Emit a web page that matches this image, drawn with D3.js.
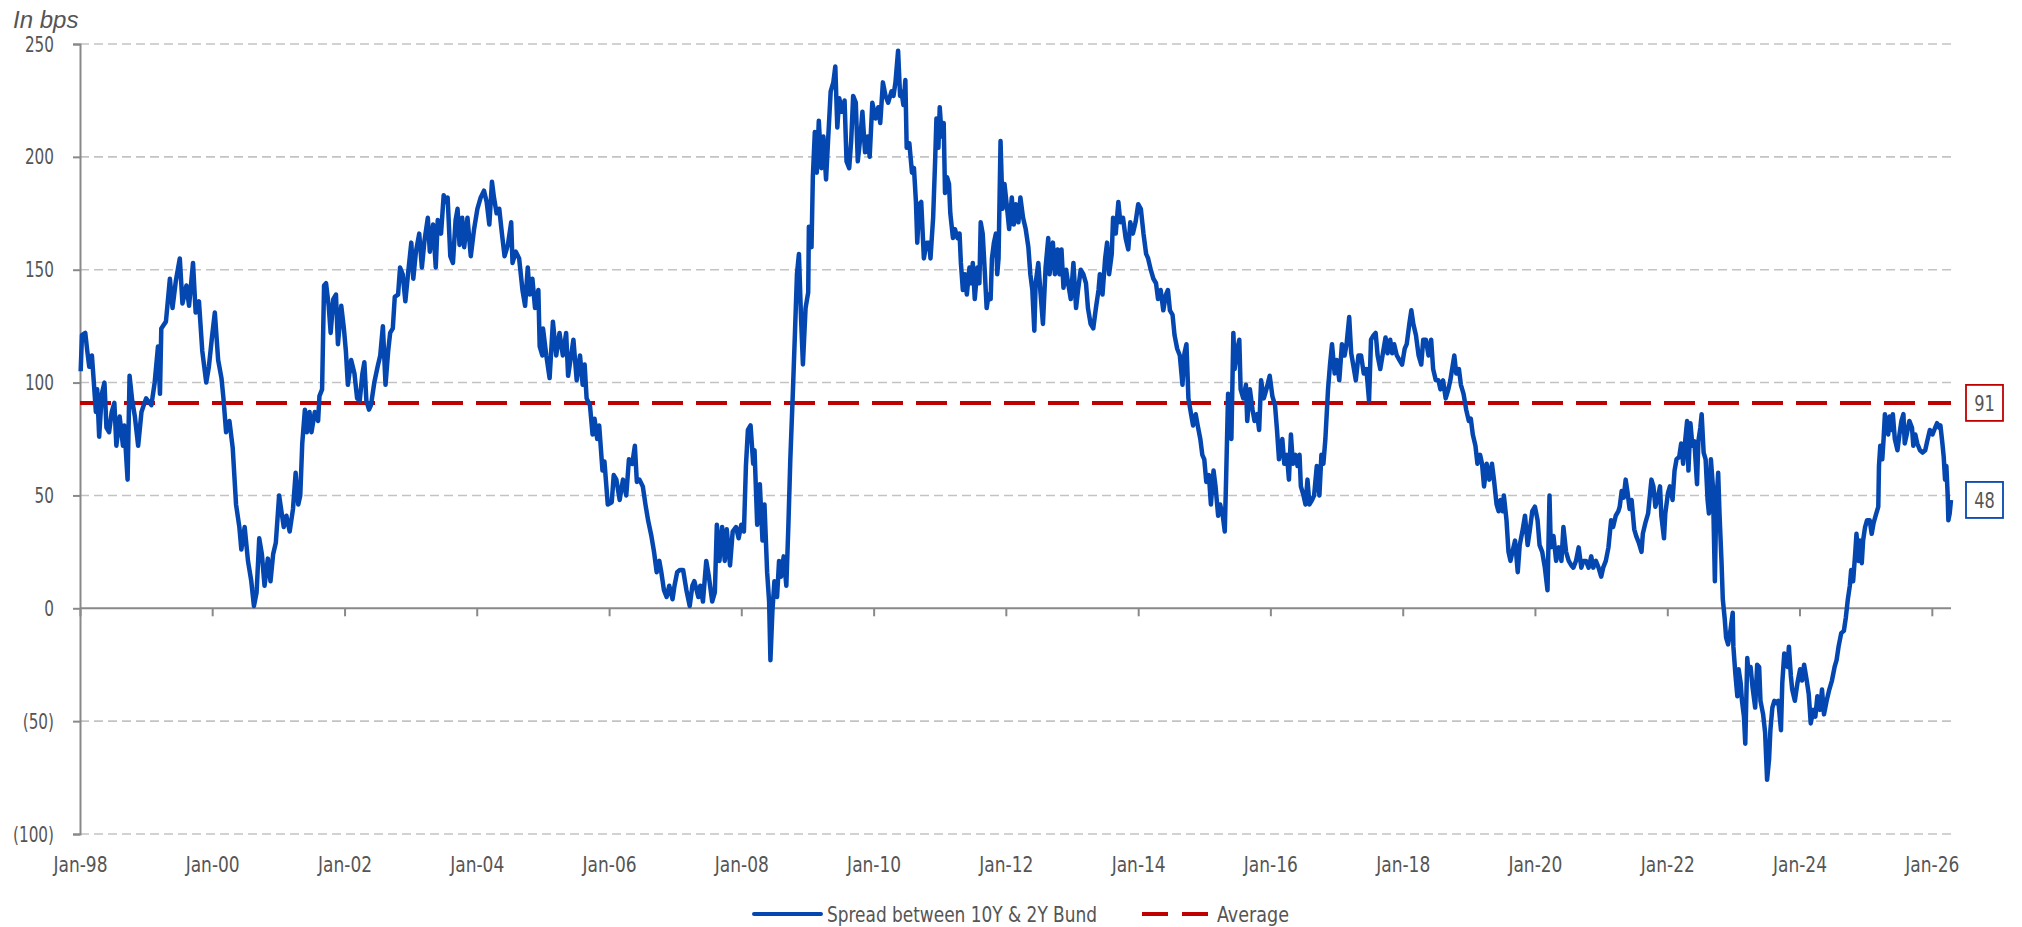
<!DOCTYPE html>
<html>
<head>
<meta charset="utf-8">
<script src="https://cdn.jsdelivr.net/npm/d3@7"></script>
<style>
  body { margin: 0; background: #fff; }
  text { font-family: "DejaVu Sans Condensed", "DejaVu Sans", sans-serif; fill: #555; }
</style>
</head>
<body>
<script>
// spread between 10Y and 2Y Bund, in bps as [decimal year, bps]
var spread98 = [[1998.01,105],[1998.03,121],[1998.08,122],[1998.11,114],[1998.14,107],[1998.18,112],[1998.2,104],[1998.24,87],[1998.26,97],[1998.29,76],[1998.33,95],[1998.37,100],[1998.4,80],[1998.44,78],[1998.48,87],[1998.52,91],[1998.55,72],[1998.6,85],[1998.65,72],[1998.67,81],[1998.72,57],[1998.75,103],[1998.79,92],[1998.83,85],[1998.88,72],[1998.93,87],[1999.0,93],[1999.08,90],[1999.13,100],[1999.18,116],[1999.21,95],[1999.23,124],[1999.3,127],[1999.36,146],[1999.4,133],[1999.45,145],[1999.51,155],[1999.55,135],[1999.61,143],[1999.65,134],[1999.71,153],[1999.75,131],[1999.8,136],[1999.85,114],[1999.91,100],[1999.95,107],[2000.0,121],[2000.04,131],[2000.09,110],[2000.14,102],[2000.17,93],[2000.21,78],[2000.26,83],[2000.31,71],[2000.36,46],[2000.41,36],[2000.44,26],[2000.49,36],[2000.54,21],[2000.59,12],[2000.63,1],[2000.67,7],[2000.71,31],[2000.75,24],[2000.79,10],[2000.84,22],[2000.88,12],[2000.92,24],[2000.96,29],[2001.01,50],[2001.04,44],[2001.08,36],[2001.12,41],[2001.17,34],[2001.22,44],[2001.26,60],[2001.3,46],[2001.33,50],[2001.36,73],[2001.4,88],[2001.43,78],[2001.47,87],[2001.5,78],[2001.55,87],[2001.6,83],[2001.62,94],[2001.66,97],[2001.69,143],[2001.72,144],[2001.76,134],[2001.79,122],[2001.83,137],[2001.87,139],[2001.9,117],[2001.95,134],[2001.99,124],[2002.02,114],[2002.05,99],[2002.1,110],[2002.15,104],[2002.19,93],[2002.23,92],[2002.27,104],[2002.3,109],[2002.33,92],[2002.37,88],[2002.4,90],[2002.45,100],[2002.5,107],[2002.54,112],[2002.58,125],[2002.62,99],[2002.66,114],[2002.69,122],[2002.73,124],[2002.76,138],[2002.81,139],[2002.84,151],[2002.88,148],[2002.92,136],[2002.96,148],[2003.01,162],[2003.04,146],[2003.08,158],[2003.13,166],[2003.17,151],[2003.21,163],[2003.26,173],[2003.29,158],[2003.34,170],[2003.38,151],[2003.41,172],[2003.46,166],[2003.5,183],[2003.53,180],[2003.56,182],[2003.6,156],[2003.64,153],[2003.68,172],[2003.71,177],[2003.74,161],[2003.78,173],[2003.81,160],[2003.86,173],[2003.91,156],[2003.96,168],[2004.01,177],[2004.06,182],[2004.11,185],[2004.15,180],[2004.19,170],[2004.23,189],[2004.26,182],[2004.3,175],[2004.34,177],[2004.38,166],[2004.42,156],[2004.47,161],[2004.52,171],[2004.54,153],[2004.59,158],[2004.64,155],[2004.69,141],[2004.73,134],[2004.77,151],[2004.8,139],[2004.84,146],[2004.88,133],[2004.93,141],[2004.95,116],[2004.99,112]]

var spread05 = [[2005.0,124],[2005.05,112],[2005.1,102],[2005.15,127],[2005.2,112],[2005.25,122],[2005.3,112],[2005.35,122],[2005.38,103],[2005.43,113],[2005.46,119],[2005.51,101],[2005.56,112],[2005.6,99],[2005.63,108],[2005.66,93],[2005.71,90],[2005.75,77],[2005.78,84],[2005.82,75],[2005.85,81],[2005.9,61],[2005.93,65],[2005.98,46],[2006.04,47],[2006.07,59],[2006.11,57],[2006.16,48],[2006.21,57],[2006.26,50],[2006.3,66],[2006.35,64],[2006.39,72],[2006.42,56],[2006.46,57],[2006.51,54],[2006.55,46],[2006.59,39],[2006.64,32],[2006.68,25],[2006.72,16],[2006.76,21],[2006.79,16],[2006.83,8],[2006.87,5],[2006.91,10],[2006.96,4],[2006.99,10],[2007.03,16],[2007.07,17],[2007.12,17],[2007.17,8],[2007.22,1],[2007.26,10],[2007.29,12],[2007.35,5],[2007.38,10],[2007.42,3],[2007.47,21],[2007.51,14],[2007.56,3],[2007.6,7],[2007.63,37],[2007.67,21],[2007.71,36],[2007.75,21],[2007.78,35],[2007.83,19],[2007.87,34],[2007.92,36],[2007.96,31],[2008.0,37],[2008.04,34],[2008.07,63],[2008.1,79],[2008.14,81],[2008.18,64],[2008.2,70],[2008.24,37],[2008.28,55],[2008.32,30],[2008.35,46],[2008.39,16],[2008.42,3],[2008.44,-23],[2008.47,-1],[2008.5,12],[2008.54,5],[2008.57,21],[2008.6,14],[2008.64,23],[2008.68,10],[2008.71,36],[2008.74,66],[2008.78,97],[2008.81,122],[2008.84,148],[2008.87,157],[2008.9,130],[2008.93,108],[2008.97,133],[2009.01,140],[2009.02,169],[2009.06,160],[2009.08,191],[2009.11,211],[2009.14,193],[2009.17,216],[2009.21,195],[2009.24,209],[2009.28,190],[2009.31,207],[2009.35,229],[2009.39,233],[2009.42,240],[2009.45,213],[2009.48,226],[2009.52,220],[2009.56,225],[2009.59,198],[2009.63,195],[2009.66,207],[2009.69,227],[2009.73,224],[2009.76,198],[2009.8,209],[2009.83,220],[2009.87,202],[2009.91,209],[2009.94,200],[2009.98,224],[2010.03,217],[2010.07,222],[2010.1,215],[2010.14,233],[2010.18,227],[2010.22,224],[2010.27,229],[2010.3,227],[2010.33,233],[2010.37,247],[2010.4,227]]

var spread10 = [[2010.42,229],[2010.45,223],[2010.48,234],[2010.5,204],[2010.54,206],[2010.58,193],[2010.61,195],[2010.64,180],[2010.66,162],[2010.69,179],[2010.72,180],[2010.76,155],[2010.8,162],[2010.84,162],[2010.86,155],[2010.9,173],[2010.93,198],[2010.95,217],[2010.98,204],[2011.0,222],[2011.03,209],[2011.06,215],[2011.08,184],[2011.11,191],[2011.14,188],[2011.16,175],[2011.2,164],[2011.23,168],[2011.27,164],[2011.3,166],[2011.32,153],[2011.35,141],[2011.38,148],[2011.41,139],[2011.45,151],[2011.48,144],[2011.5,153],[2011.53,137],[2011.57,151],[2011.6,144],[2011.62,171],[2011.65,166],[2011.68,150],[2011.71,133],[2011.74,139],[2011.77,137],[2011.79,155],[2011.82,162],[2011.85,166],[2011.87,148],[2011.89,155],[2011.92,207],[2011.95,177],[2011.98,188],[2012.02,177],[2012.05,168],[2012.09,182],[2012.12,170],[2012.15,179],[2012.19,171],[2012.22,182],[2012.26,173],[2012.3,168],[2012.34,160],[2012.37,148],[2012.4,141],[2012.43,123],[2012.45,144],[2012.49,153],[2012.52,141],[2012.56,126],[2012.6,151],[2012.64,164],[2012.66,148],[2012.71,162],[2012.74,148],[2012.78,159],[2012.81,148],[2012.84,159],[2012.87,142],[2012.91,150],[2012.94,144],[2012.98,137],[2013.02,153],[2013.06,133],[2013.09,141],[2013.13,150],[2013.17,148],[2013.21,144],[2013.24,133],[2013.28,126],[2013.32,124],[2013.36,133],[2013.4,141],[2013.42,148],[2013.46,139],[2013.5,155],[2013.53,162],[2013.56,148],[2013.6,157],[2013.62,173],[2013.66,166],[2013.7,180],[2013.73,171],[2013.77,173],[2013.81,164],[2013.85,159],[2013.88,171],[2013.92,166],[2013.96,171],[2014.0,179],[2014.04,177],[2014.08,166],[2014.12,157],[2014.15,155],[2014.19,150],[2014.23,146],[2014.27,144],[2014.3,137],[2014.34,141],[2014.38,132],[2014.42,139],[2014.45,141],[2014.48,132],[2014.52,130],[2014.55,121],[2014.59,115],[2014.63,112],[2014.67,99],[2014.7,113],[2014.73,117],[2014.76,93],[2014.8,86],[2014.83,81],[2014.87,86],[2014.9,81],[2014.94,75],[2014.97,68],[2015.0,66],[2015.03,56],[2015.07,59],[2015.1,46],[2015.14,61],[2015.17,54],[2015.21,41],[2015.24,46],[2015.28,41],[2015.31,34],[2015.33,57],[2015.36,95],[2015.38,88],[2015.41,75],[2015.44,122],[2015.46,106],[2015.5,115],[2015.53,119],[2015.55,97],[2015.59,93],[2015.63,99],[2015.65,83],[2015.69,97],[2015.73,88],[2015.76,83],[2015.8,86],[2015.83,79],[2015.86,101],[2015.9,93],[2015.94,97],[2015.99,103]]

var spread16 = [[2016.03,94],[2016.07,90],[2016.1,79],[2016.13,66],[2016.18,75],[2016.21,64],[2016.25,68],[2016.28,57],[2016.31,77],[2016.34,64],[2016.38,68],[2016.41,63],[2016.44,68],[2016.46,54],[2016.5,50],[2016.53,46],[2016.56,57],[2016.59,46],[2016.63,48],[2016.66,50],[2016.7,63],[2016.74,50],[2016.77,68],[2016.8,64],[2016.83,75],[2016.87,97],[2016.9,108],[2016.93,117],[2016.97,104],[2017.0,110],[2017.04,101],[2017.08,117],[2017.12,112],[2017.15,117],[2017.19,129],[2017.22,113],[2017.25,108],[2017.29,101],[2017.33,112],[2017.37,112],[2017.41,104],[2017.45,106],[2017.49,92],[2017.52,119],[2017.56,121],[2017.59,122],[2017.62,112],[2017.66,106],[2017.7,113],[2017.74,120],[2017.77,113],[2017.81,119],[2017.84,113],[2017.87,117],[2017.91,112],[2017.95,110],[2017.99,108],[2018.03,115],[2018.06,117],[2018.1,126],[2018.13,132],[2018.16,126],[2018.2,121],[2018.24,112],[2018.28,108],[2018.31,119],[2018.35,119],[2018.39,112],[2018.43,119],[2018.46,106],[2018.5,101],[2018.54,101],[2018.57,97],[2018.61,101],[2018.65,93],[2018.69,97],[2018.72,101],[2018.78,112],[2018.81,104],[2018.85,106],[2018.88,99],[2018.92,95],[2018.96,88],[2019.0,83],[2019.03,84],[2019.06,77],[2019.1,72],[2019.13,64],[2019.17,68],[2019.2,64],[2019.23,54],[2019.27,64],[2019.31,57],[2019.35,64],[2019.38,57],[2019.42,46],[2019.45,43],[2019.48,48],[2019.51,43],[2019.53,50],[2019.57,39],[2019.6,25],[2019.63,21],[2019.66,25],[2019.7,30],[2019.74,16],[2019.77,28],[2019.81,34],[2019.85,41],[2019.89,28],[2019.92,34],[2019.96,43],[2020.0,45],[2020.04,39],[2020.07,28],[2020.11,25],[2020.15,18],[2020.19,8],[2020.22,50],[2020.24,27],[2020.28,32],[2020.32,21],[2020.36,27],[2020.4,21],[2020.43,36],[2020.47,25],[2020.51,21],[2020.55,19],[2020.58,18],[2020.62,21],[2020.66,27],[2020.7,18],[2020.73,21],[2020.77,21],[2020.81,18],[2020.85,23],[2020.88,18],[2020.92,21],[2020.96,18],[2021.0,14],[2021.03,18],[2021.07,21],[2021.11,27],[2021.15,39],[2021.18,36],[2021.22,41],[2021.26,43]]

var spread21 = [[2021.28,45],[2021.31,52],[2021.34,49],[2021.37,57],[2021.4,51],[2021.43,44],[2021.46,48],[2021.5,35],[2021.53,32],[2021.57,29],[2021.61,25],[2021.63,33],[2021.67,38],[2021.71,42],[2021.74,51],[2021.76,57],[2021.79,54],[2021.82,45],[2021.85,48],[2021.89,54],[2021.91,41],[2021.95,31],[2021.97,42],[2022.01,51],[2022.04,54],[2022.08,48],[2022.11,61],[2022.14,66],[2022.18,67],[2022.21,73],[2022.24,64],[2022.27,74],[2022.3,83],[2022.32,61],[2022.35,82],[2022.38,72],[2022.41,74],[2022.45,55],[2022.47,74],[2022.5,80],[2022.52,86],[2022.55,69],[2022.58,66],[2022.61,48],[2022.63,42],[2022.66,66],[2022.69,54],[2022.72,12],[2022.74,45],[2022.77,60],[2022.79,42],[2022.82,21],[2022.84,4],[2022.87,-5],[2022.89,-13],[2022.92,-16],[2022.95,-11],[2022.99,-2],[2023.0,-17],[2023.03,-29],[2023.06,-39],[2023.08,-27],[2023.11,-33],[2023.13,-41],[2023.16,-48],[2023.18,-60],[2023.21,-22],[2023.23,-29],[2023.26,-26],[2023.29,-35],[2023.33,-44],[2023.36,-25],[2023.39,-26],[2023.41,-41],[2023.45,-47],[2023.48,-55],[2023.51,-76],[2023.54,-67],[2023.56,-54],[2023.59,-44],[2023.62,-41],[2023.65,-42],[2023.68,-41],[2023.72,-54],[2023.74,-33],[2023.77,-20],[2023.79,-23],[2023.82,-26],[2023.84,-17],[2023.87,-30],[2023.89,-36],[2023.93,-41],[2023.97,-33],[2024.01,-27],[2024.04,-32],[2024.07,-25],[2024.11,-32],[2024.14,-38],[2024.17,-51],[2024.21,-45],[2024.24,-48],[2024.27,-39],[2024.31,-45],[2024.34,-36],[2024.37,-47],[2024.41,-41],[2024.45,-36],[2024.49,-32],[2024.53,-26],[2024.56,-23],[2024.59,-17],[2024.63,-11],[2024.67,-10],[2024.7,-4],[2024.73,4],[2024.76,10],[2024.78,17],[2024.81,12],[2024.84,24],[2024.86,33],[2024.89,21],[2024.91,30],[2024.94,20],[2024.96,30],[2024.99,36],[2025.02,39],[2025.06,39],[2025.09,33],[2025.12,38],[2025.16,42],[2025.19,45],[2025.2,63],[2025.22,72],[2025.25,66],[2025.27,75],[2025.29,86],[2025.31,80],[2025.34,77],[2025.36,85],[2025.39,79],[2025.41,86],[2025.44,75],[2025.48,70],[2025.51,77],[2025.54,83],[2025.57,86],[2025.59,73],[2025.62,77],[2025.66,83],[2025.7,80],[2025.72,72],[2025.75,77],[2025.78,73],[2025.82,70],[2025.86,69],[2025.9,70],[2025.93,74],[2025.97,79],[2026.01,77],[2026.05,80],[2026.08,82],[2026.11,80],[2026.13,81],[2026.16,73],[2026.18,67],[2026.2,57],[2026.22,63],[2026.24,50],[2026.25,39],[2026.27,42],[2026.29,48]]

var average = 91
var latest = 48
var yTicks = [-100, -50, 0, 50, 100, 150, 200, 250]
var seriesNames = ["Spread between 10Y & 2Y Bund", "Average"]

var width = 2022,
    height = 927
var blue = "#0547b1",
    red = "#c00000",
    grey = "#898989"

// decimal year -> Date
function toDate(y) {
    var yr = Math.floor(y)
    var s = Date.UTC(yr, 0, 1), e = Date.UTC(yr + 1, 0, 1)
    return new Date(s + (y - yr) * (e - s))
}

// squeeze text horizontally, no condensed font here
function squeeze(sel, sx) {
    sel.each(function () {
        var t = d3.select(this)
        var x0 = +t.attr("x") || 0
        t.attr("x", x0 / sx).attr("transform", "scale(" + sx + ",1)")
    })
}

var data = spread98.concat(spread05, spread10, spread16, spread21)
    .map(function (d) { return { date: toDate(d[0]), v: d[1] } })

var svg = d3.select("body").append("svg")
    .attr("width", width)
    .attr("height", height)

var x = d3.scaleUtc()
    .domain([toDate(1998), data[data.length - 1].date])
    .range([80, 1951])
var y = d3.scaleLinear()
    .domain([-100, 250])
    .range([834, 44])

// dashed grid lines
svg.append("g")
    .selectAll("line")
    .data(yTicks.filter(function (d) { return d != 0 }))
    .enter().append("line")
    .attr("x1", 80).attr("x2", 1951)
    .attr("y1", function (d) { return y(d) })
    .attr("y2", function (d) { return y(d) })
    .attr("stroke", "#c3c3c3")
    .attr("stroke-width", 1.6)
    .attr("stroke-dasharray", "9,5")

// y axis
var yAxis = d3.axisLeft(y)
    .tickValues(yTicks)
    .tickSize(7)
    .tickPadding(19)
    .tickFormat(function (d) { return d < 0 ? "(" + (-d) + ")" : d })
var gy = svg.append("g")
    .attr("transform", "translate(80,0)")
    .call(yAxis)
gy.select(".domain").attr("stroke", grey).attr("stroke-width", 2)
gy.selectAll(".tick line").attr("stroke", grey).attr("stroke-width", 2)
gy.selectAll("text").attr("font-size", 22).attr("fill", "#555")
    .style("font-family", null)
squeeze(gy.selectAll("text"), 0.77)

// x axis sits on zero, labels at the bottom
var xAxis = d3.axisBottom(x)
    .ticks(d3.utcYear.every(2))
    .tickSize(8)
    .tickFormat(d3.utcFormat("%b-%y"))
var gx = svg.append("g")
    .attr("transform", "translate(0," + y(0) + ")")
    .call(xAxis)
gx.select(".domain").attr("stroke", grey).attr("stroke-width", 2)
    .attr("d", "M80,0H1951")
gx.selectAll(".tick line").attr("stroke", grey).attr("stroke-width", 2)
gx.selectAll("text")
    .attr("y", y(-100) - y(0) + 23)
    .attr("font-size", 21.5).attr("fill", "#555")
squeeze(gx.selectAll("text"), 0.88)

// average line
svg.append("line")
    .attr("x1", 80).attr("x2", 1951)
    .attr("y1", y(average)).attr("y2", y(average))
    .attr("stroke", red)
    .attr("stroke-width", 4)
    .attr("stroke-dasharray", "31,13")

// spread line
var line = d3.line()
    .x(function (d) { return x(d.date) })
    .y(function (d) { return y(d.v) })
svg.append("path")
    .datum(data)
    .attr("d", line)
    .attr("fill", "none")
    .attr("stroke", blue)
    .attr("stroke-width", 4.5)
    .attr("stroke-linejoin", "round")

// value boxes on the right
var boxes = [{ v: average, c: red }, { v: latest, c: blue }]
boxes.forEach(function (b) {
    svg.append("rect")
        .attr("x", 1966).attr("y", y(b.v) - 18)
        .attr("width", 37).attr("height", 36)
        .attr("fill", "#fff")
        .attr("stroke", b.c).attr("stroke-width", 1.8)
    var t = svg.append("text")
        .attr("x", 1984.5).attr("y", y(b.v) + 8)
        .attr("text-anchor", "middle")
        .attr("font-size", 22)
        .text(b.v)
    squeeze(t, 0.82)
})

// unit label
svg.append("text")
    .attr("x", 13).attr("y", 28)
    .style("font-family", "'Liberation Sans', sans-serif")
    .style("font-style", "italic")
    .attr("font-size", 24)
    .text("In bps")

// legend
var leg = svg.append("g")
leg.append("line")
    .attr("x1", 754).attr("x2", 821).attr("y1", 914).attr("y2", 914)
    .attr("stroke", blue).attr("stroke-width", 4).attr("stroke-linecap", "round")
leg.append("text")
    .attr("x", 827).attr("y", 922)
    .attr("font-size", 22)
    .attr("textLength", 270)
    .attr("lengthAdjust", "spacingAndGlyphs")
    .text(seriesNames[0])
leg.append("line")
    .attr("x1", 1142).attr("x2", 1208).attr("y1", 914).attr("y2", 914)
    .attr("stroke", red).attr("stroke-width", 4)
    .attr("stroke-dasharray", "26,14")
leg.append("text")
    .attr("x", 1217).attr("y", 922)
    .attr("font-size", 22)
    .attr("textLength", 72)
    .attr("lengthAdjust", "spacingAndGlyphs")
    .text(seriesNames[1])
</script>
</body>
</html>
